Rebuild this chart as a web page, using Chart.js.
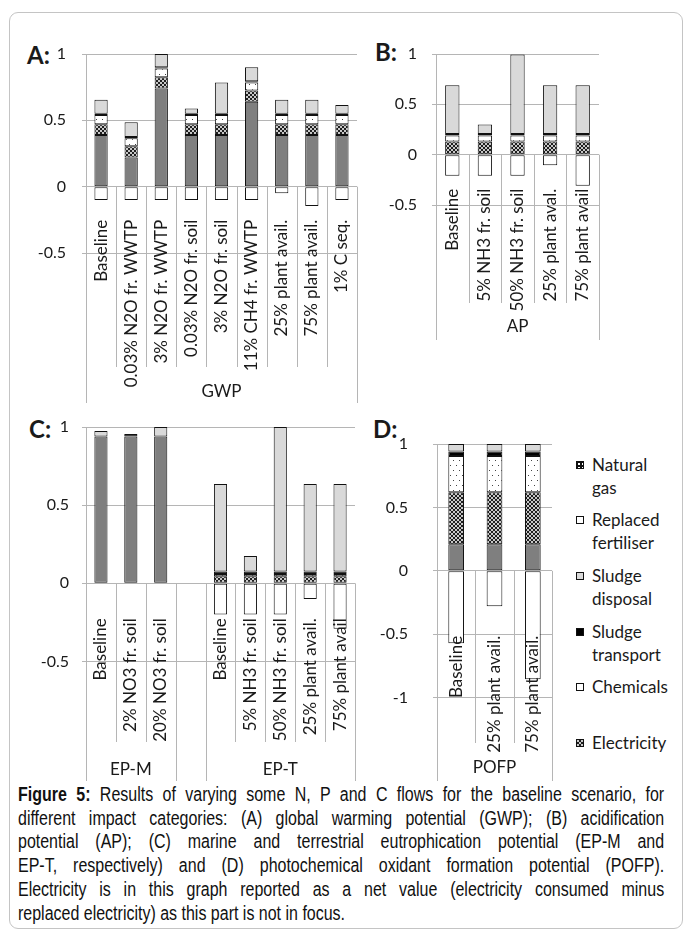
<!DOCTYPE html>
<html>
<head>
<meta charset="utf-8">
<script src="https://cdn.jsdelivr.net/npm/chart.js@4.4.0/dist/chart.umd.min.js"></script>
<style>
  html, body { margin: 0; padding: 0; background: #fff; }
  body { width: 683px; height: 936px; position: relative; overflow: hidden; font-family: Lato, sans-serif; color: #1a1a1a; }
  .frame { position: absolute; left: 9px; top: 12px; width: 672px; height: 915px; border: 1px solid #c4c4c4; border-radius: 9px; }
  canvas { position: absolute; }
  .tag { position: absolute; font: bold 24px Lato, sans-serif; line-height: 24px; }
  .item { position: absolute; left: 576px; font-size: 17px; line-height: 22.5px; padding-left: 16px; white-space: nowrap; }
  .sw { position: absolute; left: 0; top: 7px; width: 8px; height: 8px; box-sizing: border-box; border: 1px solid #111; }
  .caption { position: absolute; left: 18px; top: 783px; width: 788px; transform: scaleX(0.82); transform-origin: 0 0;
             font-family: "Liberation Sans", Arial, sans-serif; font-size: 19.5px; line-height: 23.7px; color: #111; }
  .j { text-align: justify; text-align-last: justify; }
</style>
</head>
<body>
<div class="frame"></div>
<div class="tag" style="left:27px;top:43px">A:</div>
<div class="tag" style="left:375px;top:40px">B:</div>
<div class="tag" style="left:29px;top:417px">C:</div>
<div class="tag" style="left:373px;top:417px">D:</div>

<div class="caption">
  <div class="j"><b>Figure 5:</b> Results of varying some N, P and C flows for the baseline scenario, for</div>
  <div class="j">different impact categories: (A) global warming potential (GWP); (B) acidification</div>
  <div class="j">potential (AP); (C) marine and terrestrial eutrophication potential (EP-M and</div>
  <div class="j">EP-T, respectively) and (D) photochemical oxidant formation potential (POFP).</div>
  <div class="j">Electricity is in this graph reported as a net value (electricity consumed minus</div>
  <div>replaced electricity) as this part is not in focus.</div>
</div>

<script>
// ---- data ----
// stack order bottom -> top: direct, electricity, chemicals, sludge transport, sludge disposal; replaced fertiliser is negative
const labelsA = ['Baseline', '0.03% N2O fr. WWTP', '3% N2O fr. WWTP', '0.03% N2O fr. soil', '3% N2O fr. soil', '11% CH4 fr. WWTP', '25% plant avail.', '75% plant avail.', '1% C seq.'];
const directA = [0.39, 0.22, 0.74, 0.39, 0.39, 0.64, 0.39, 0.39, 0.39];
const elecA   = [0.08, 0.085, 0.085, 0.08, 0.08, 0.085, 0.08, 0.08, 0.08];
const chemA   = [0.07, 0.06, 0.065, 0.07, 0.07, 0.06, 0.07, 0.07, 0.07];
const transA  = [0.01, 0.01, 0.01, 0.01, 0.01, 0.01, 0.01, 0.01, 0.01];
const dispA   = [0.105, 0.11, 0.10, 0.04, 0.235, 0.105, 0.105, 0.105, 0.065];
const fertA   = [-0.1, -0.1, -0.1, -0.1, -0.1, -0.1, -0.05, -0.145, -0.1];
const groupsA = [{ label: 'GWP', from: 0, to: 8 }];

const labelsB = ['Baseline', '5% NH3 fr. soil', '50% NH3 fr. soil', '25% plant aval.', '75% plant avail'];
const directB = [null, null, null, null, null];
const elecB   = [0.13, 0.13, 0.13, 0.13, 0.13];
const chemB   = [0.06, 0.06, 0.06, 0.06, 0.06];
const transB  = [0.015, 0.015, 0.015, 0.015, 0.015];
const dispB   = [0.485, 0.095, 0.79, 0.485, 0.485];
const fertB   = [-0.21, -0.21, -0.21, -0.105, -0.31];
const groupsB = [{ label: 'AP', from: 0, to: 4 }];

const labelsC = ['Baseline', '2% NO3 fr. soil', '20% NO3 fr. soil', '', 'Baseline', '5% NH3 fr. soil', '50% NH3 fr. soil', '25% plant avail.', '75% plant avail'];
const directC = [0.94, 0.94, 0.94, null, null, null, null, null, null];
const elecC   = [null, null, null, null, 0.045, 0.045, 0.045, 0.045, 0.045];
const chemC   = [null, null, null, null, 0.015, 0.015, 0.015, 0.015, 0.015];
const transC  = [null, 0.015, null, null, 0.015, 0.015, 0.015, 0.015, 0.015];
const dispC   = [0.035, null, 0.06, null, 0.56, 0.10, 0.925, 0.56, 0.56];
const fertC   = [null, null, null, null, -0.2, -0.2, -0.2, -0.1, -0.29];
const groupsC = [{ label: 'EP-M', from: 0, to: 2 }, { label: '', from: 3, to: 3 }, { label: 'EP-T', from: 4, to: 8 }];

const labelsD = ['Baseline', '25% plant avail.', '75% plant avail.'];
const directD = [0.21, 0.21, 0.21];
const elecD   = [0.41, 0.41, 0.41];
const chemD   = [0.285, 0.285, 0.285];
const transD  = [0.035, 0.035, 0.035];
const dispD   = [0.06, 0.06, 0.06];
const fertD   = [-0.57, -0.28, -0.855];
const groupsD = [{ label: 'POFP', from: 0, to: 2 }];

const seriesNames = ['Direct emissions', 'Electricity', 'Chemicals', 'Sludge transport', 'Sludge disposal', 'Replaced fertiliser'];
const legendLabels = [['Natural', 'gas'], ['Replaced', 'fertiliser'], ['Sludge', 'disposal'], ['Sludge', 'transport'], ['Chemicals'], ['Electricity']];
const legendTops = [454, 509, 565, 621, 676, 732];

// ---- fills ----
const GRID = '#b5b5b5';
const TEXT = '#1a1a1a';

function makeTile(w, h, draw) {
    const c = document.createElement('canvas');
    c.width = w; c.height = h;
    draw(c.getContext('2d'));
    return c;
}
const elecTile = makeTile(4, 4, g => {
    g.fillStyle = '#1e1e1e'; g.fillRect(0, 0, 4, 4);
    g.fillStyle = '#c8c8c8'; g.fillRect(0, 0, 2, 2); g.fillRect(2, 2, 2, 2);
});
const chemTile = makeTile(6, 10, g => {
    g.fillStyle = '#ffffff'; g.fillRect(0, 0, 6, 10);
    g.fillStyle = '#444'; g.fillRect(1, 2, 1, 1); g.fillRect(4, 7, 1, 1);
});
const gasTile = makeTile(8, 8, g => {
    g.fillStyle = '#111'; g.fillRect(0, 0, 8, 8);
    g.fillStyle = '#fff'; [[1, 1], [5, 1], [1, 5], [5, 5]].forEach(p => g.fillRect(p[0], p[1], 2, 2));
});
const pat = t => t.getContext('2d').createPattern(t, 'repeat');

const fills = ['#7f7f7f', pat(elecTile), pat(chemTile), '#000000', '#d9d9d9', '#ffffff'];
const legendFills = [
    `url(${gasTile.toDataURL()})`, '#ffffff', '#d9d9d9', '#000000', '#ffffff', `url(${elecTile.toDataURL()})`
];

legendLabels.forEach((lines, i) => {
    const d = document.createElement('div');
    d.className = 'item';
    d.style.top = legendTops[i] + 'px';
    d.innerHTML = `<span class="sw" style="background:${legendFills[i]}"></span>` + lines.join('<br>');
    document.body.appendChild(d);
});

// ---- separators + group labels under the category axis ----
const separators = {
    id: 'separators',
    beforeDatasetsDraw(chart, args, opts) {
        const xs = chart.scales.x, ys = chart.scales.y, ctx = chart.ctx;
        const y0 = ys.getPixelForValue(0);
        const n = chart.data.labels.length;
        const edges = opts.groups.flatMap(g => [g.from, g.to + 1]);
        ctx.save();
        ctx.strokeStyle = GRID;
        ctx.lineWidth = 1;
        for (let i = 0; i <= n; i++) {
            const px = Math.round(xs.getPixelForValue(i - 0.5)) + 0.5;
            const top = i === 0 ? chart.chartArea.top : y0;
            const bottom = edges.includes(i) ? opts.groupBottom : opts.sepBottom;
            ctx.beginPath();
            ctx.moveTo(px, top);
            ctx.lineTo(px, bottom);
            ctx.stroke();
        }
        ctx.fillStyle = TEXT;
        ctx.font = '17px Lato';
        ctx.textAlign = 'center';
        ctx.textBaseline = 'middle';
        opts.groups.forEach(g => {
            const cx = (xs.getPixelForValue(g.from - 0.5) + xs.getPixelForValue(g.to + 0.5)) / 2;
            ctx.fillText(g.label, cx, opts.groupLabelY);
        });
        ctx.restore();
    }
};

Chart.defaults.font.family = 'Lato';
Chart.defaults.color = TEXT;

function makePanel(p) {
    const topPad = p.yPad + 16;
    const box = { x: p.x0, y: p.area.top - topPad, w: p.x1 - p.x0, h: p.y1 - (p.area.top - topPad) };
    const cv = document.createElement('canvas');
    cv.width = box.w; cv.height = box.h;
    cv.style.left = box.x + 'px';
    cv.style.top = box.y + 'px';
    document.body.appendChild(cv);

    // category labels hang a fixed distance below the zero line
    const pxPerUnit = (p.area.bottom - p.area.top) / (1 - p.min);
    const labelAnchor = -p.xPad / pxPerUnit;

    const datasets = p.series.map((data, i) => ({
        label: seriesNames[i],
        data: data,
        backgroundColor: fills[i],
        borderColor: '#111',
        borderWidth: 1,
        borderSkipped: false,
        barPercentage: p.barPct,
        categoryPercentage: 1
    }));

    new Chart(cv, {
        type: 'bar',
        data: { labels: p.labels, datasets: datasets },
        options: {
            responsive: false,
            animation: false,
            devicePixelRatio: 1,
            layout: {
                padding: {
                    left: 0,
                    top: topPad,
                    right: p.x1 - p.area.right,
                    bottom: p.y1 - p.area.bottom
                }
            },
            plugins: {
                legend: { display: false },
                tooltip: { enabled: false },
                separators: {
                    groups: p.groups,
                    sepBottom: p.sepBottom - box.y,
                    groupBottom: p.groupBottom - box.y,
                    groupLabelY: p.groupLabelY - box.y
                }
            },
            scales: {
                x: {
                    type: 'category',
                    position: { y: labelAnchor },
                    stacked: true,
                    grid: { display: false, drawTicks: false },
                    border: { display: false },
                    // z: 1 -> labels sit on top of the negative bars, as in the original
                    ticks: { z: 1, minRotation: 90, maxRotation: 90, autoSkip: false, padding: 0, font: { size: 17 } }
                },
                y: {
                    stacked: true,
                    min: p.min,
                    max: 1,
                    afterFit: s => { s.width = p.area.left - p.x0; },
                    grid: { color: GRID, tickLength: 4 },
                    border: { display: false },
                    ticks: { stepSize: 0.5, padding: p.yPad, font: { size: 16 }, callback: v => String(v) }
                }
            }
        },
        plugins: [separators]
    });
}

makePanel({
    labels: labelsA, series: [directA, elecA, chemA, transA, dispA, fertA], groups: groupsA,
    x0: 20, x1: 365, y1: 415, area: { left: 86, top: 54, right: 357, bottom: 253 },
    min: -0.5, barPct: 0.44, xPad: 33, yPad: 16, sepBottom: 367, groupBottom: 403, groupLabelY: 392
});
makePanel({
    labels: labelsB, series: [directB, elecB, chemB, transB, dispB, fertB], groups: groupsB,
    x0: 365, x1: 675, y1: 350, area: { left: 436, top: 54, right: 599, bottom: 205 },
    min: -0.5, barPct: 0.44, xPad: 34, yPad: 15, sepBottom: 303, groupBottom: 340, groupLabelY: 327
});
makePanel({
    labels: labelsC, series: [directC, elecC, chemC, transC, dispC, fertC], groups: groupsC,
    x0: 20, x1: 365, y1: 790, area: { left: 86, top: 427, right: 355, bottom: 661.5 },
    min: -0.5, barPct: 0.44, xPad: 35, yPad: 13, sepBottom: 742, groupBottom: 781, groupLabelY: 770
});
makePanel({
    labels: labelsD, series: [directD, elecD, chemD, transD, dispD, fertD], groups: groupsD,
    x0: 365, x1: 565, y1: 790, area: { left: 437, top: 444, right: 552, bottom: 697.7 },
    min: -1, barPct: 0.41, xPad: 65, yPad: 25, sepBottom: 743, groupBottom: 781, groupLabelY: 768
});
</script>
</body>
</html>
